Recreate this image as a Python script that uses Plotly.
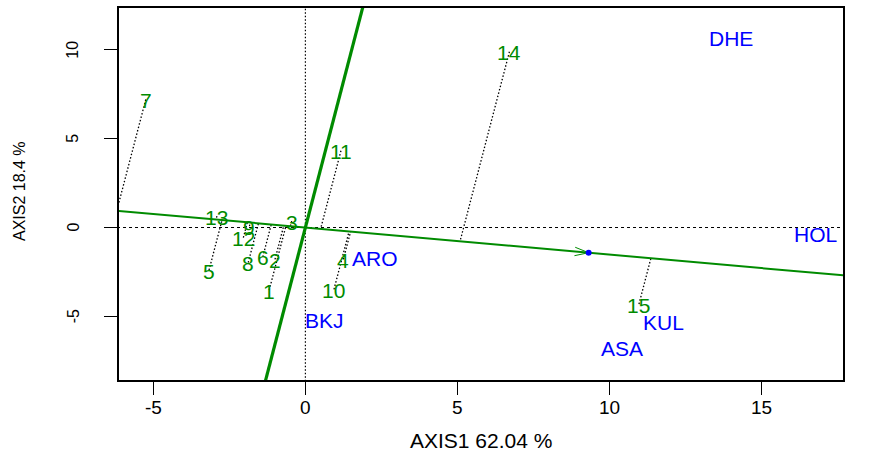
import numpy as np
import plotly.graph_objects as go

# ---------------- data ----------------
env_names = ["DHE", "HOL", "ARO", "BKJ", "KUL", "ASA"]
env_x = [14.01, 16.78, 2.28, 0.63, 11.78, 10.41]
env_y = [10.71, -0.32, -1.69, -5.15, -5.29, -6.77]

gen_names = ["1", "2", "3", "4", "5", "6", "7", "8", "9", "10", "11", "12", "13", "14", "15"]
gen_x = [-1.19, -1.00, -0.45, 1.25, -3.17, -1.40, -5.25, -1.88, -1.84, 0.94, 1.17, -2.04, -2.91, 6.71, 10.97]
gen_y = [-3.52, -1.79, 0.36, -1.79, -2.40, -1.65, 7.20, -1.97, 0.08, -3.48, 4.32, -0.57, 0.64, 9.89, -4.31]

x_ticks = [-5, 0, 5, 10, 15]
y_ticks = [-5, 0, 5, 10]
x_title = "AXIS1 62.04 %"
y_title = "AXIS2 18.4 %"

# ---------------- styling / layout ----------------
W, H = 888, 466
ML, MR, MT, MB = 119, 45, 6, 86
XR = [-6.13, 17.68]
YR = [-8.58, 12.35]
GREEN = "#008B00"
BLUE = "#0000FF"
FONT = "Liberation Sans, Arial, sans-serif"

pw, ph = W - ML - MR, H - MT - MB
sx = pw / (XR[1] - XR[0])
sy = ph / (YR[1] - YR[0])

ex, ey = np.array(env_x), np.array(env_y)
gx, gy = np.array(gen_x), np.array(gen_y)

# average environment coordinate -> AEC direction
avg = np.array([ex.mean(), ey.mean()])
u = avg / np.linalg.norm(avg)
v = np.array([-u[1], u[0]])

fig = go.Figure()

# reference axes through origin
fig.add_trace(go.Scatter(x=[0, 0], y=[-50, 50], mode="lines",
                         line=dict(color="black", width=1.2, dash="1.5px,2px"),
                         hoverinfo="skip", showlegend=False))
fig.add_trace(go.Scatter(x=[-50, 50], y=[0, 0], mode="lines",
                         line=dict(color="black", width=1, dash="3px,3px"),
                         hoverinfo="skip", showlegend=False))

# projections of genotypes on AEC abscissa
px_, py_ = [], []
for x0, y0 in zip(gx, gy):
    d = x0 * u[0] + y0 * u[1]
    px_ += [x0, d * u[0], None]
    py_ += [y0, d * u[1], None]
fig.add_trace(go.Scatter(x=px_, y=py_, mode="lines",
                         line=dict(color="black", width=1.3, dash="1.5px,2px"),
                         hoverinfo="skip", showlegend=False))

# AEC abscissa
t = np.array([-60, 60])
fig.add_trace(go.Scatter(x=t * u[0], y=t * u[1], mode="lines",
                         line=dict(color=GREEN, width=2),
                         hoverinfo="skip", showlegend=False))
# AEC ordinate (perpendicular)
fig.add_trace(go.Scatter(x=t * v[0], y=t * v[1], mode="lines",
                         line=dict(color=GREEN, width=3.2),
                         hoverinfo="skip", showlegend=False))

# arrow head at average environment (computed in screen space)
p = np.array([u[0] * sx, u[1] * sy])
p = p / np.linalg.norm(p)
L, ang = 14.5, np.deg2rad(17)
ax_, ay_ = [], []
for s in (1, -1):
    c, sn = np.cos(s * ang), np.sin(s * ang)
    r = np.array([p[0] * c - p[1] * sn, p[0] * sn + p[1] * c])
    ax_ += [avg[0] - L * r[0] / sx, avg[0], None]
    ay_ += [avg[1] - L * r[1] / sy, avg[1], None]
fig.add_trace(go.Scatter(x=ax_, y=ay_, mode="lines",
                         line=dict(color=GREEN, width=1),
                         hoverinfo="skip", showlegend=False))
fig.add_trace(go.Scatter(x=[avg[0]], y=[avg[1]], mode="markers",
                         marker=dict(color=BLUE, size=6, line=dict(width=0)),
                         hoverinfo="skip", showlegend=False))

annotations = []
LAB = 21
for n, x0, y0 in zip(gen_names, gx, gy):
    annotations.append(dict(x=x0, y=y0, xref="x", yref="y", text=n, showarrow=False,
                            font=dict(family=FONT, size=LAB, color=GREEN),
                            xanchor="center", yanchor="middle", yshift=-1))
for n, x0, y0 in zip(env_names, ex, ey):
    annotations.append(dict(x=x0, y=y0, xref="x", yref="y", text=n, showarrow=False,
                            font=dict(family=FONT, size=LAB, color=BLUE),
                            xanchor="center", yanchor="middle", yshift=-1))

def paper_x(px):
    return (px - ML) / pw

def paper_y(py):
    return (H - MB - py) / ph

# tick labels (R style)
for tv in x_ticks:
    annotations.append(dict(x=tv, y=paper_y(408), xref="x", yref="paper", text=str(tv),
                            showarrow=False, font=dict(family=FONT, size=19, color="black"),
                            xanchor="center", yanchor="middle"))
for tv in y_ticks:
    annotations.append(dict(x=paper_x(73), y=tv, xref="paper", yref="y", text=str(tv),
                            showarrow=False, textangle=-90,
                            font=dict(family=FONT, size=16, color="black"),
                            xanchor="center", yanchor="middle"))
# axis titles
annotations.append(dict(x=0.5, y=paper_y(441), xref="paper", yref="paper", text=x_title,
                        showarrow=False, font=dict(family=FONT, size=21, color="black"),
                        xanchor="center", yanchor="middle"))
annotations.append(dict(x=paper_x(19), y=paper_y(190), xref="paper", yref="paper", text=y_title,
                        showarrow=False, textangle=-90,
                        font=dict(family=FONT, size=16, color="black"),
                        xanchor="center", yanchor="middle"))

axis_common = dict(showgrid=False, zeroline=False, showline=True, linecolor="black",
                   linewidth=1.5, mirror=True, ticks="outside", ticklen=13, tickwidth=1,
                   tickcolor="black", showticklabels=False)
fig.update_layout(
    width=W, height=H,
    margin=dict(l=ML, r=MR, t=MT, b=MB),
    plot_bgcolor="white", paper_bgcolor="white",
    xaxis=dict(range=XR, tickvals=x_ticks, **axis_common),
    yaxis=dict(range=YR, tickvals=y_ticks, **axis_common),
    annotations=annotations,
    showlegend=False,
)

fig.write_html("out.html")
